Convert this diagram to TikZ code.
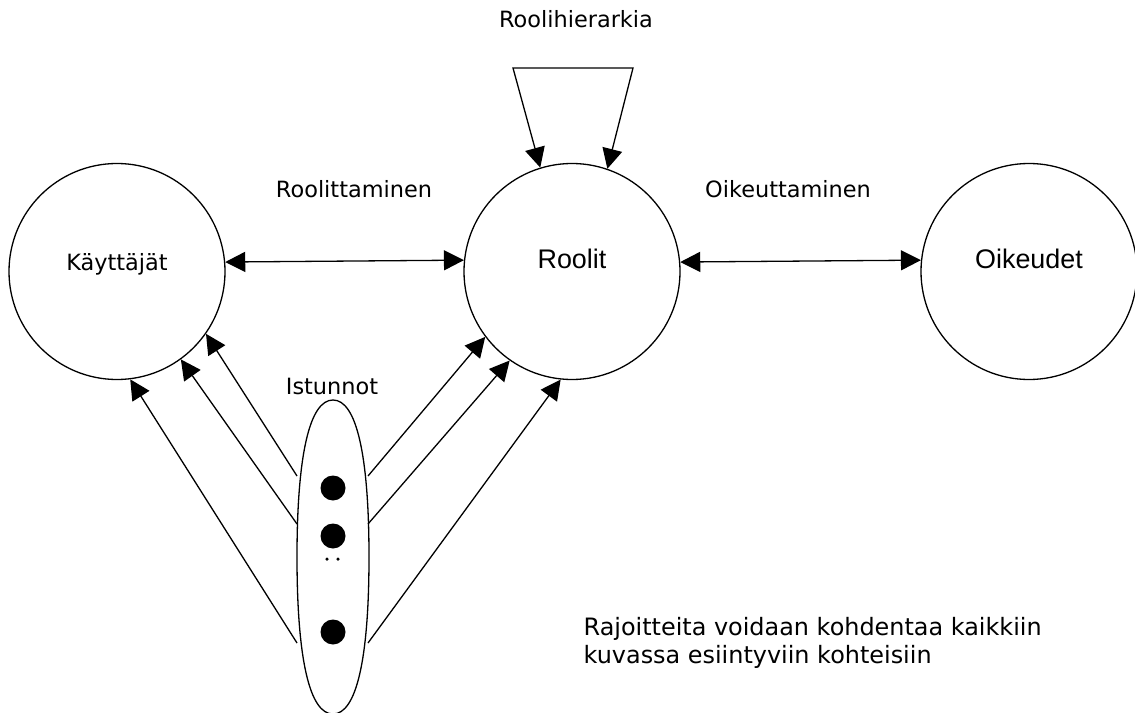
\documentclass[tikz,border=0pt]{standalone}
\usepackage{fontspec}
\setmainfont{DejaVu Sans}
\newfontfamily\arialf{Liberation Sans}
\usetikzlibrary{arrows.meta,shapes.geometric}
\begin{document}
\begin{tikzpicture}[x=1bp,y=-1bp,
  line width=1.3bp,
  tip/.style={-{Triangle[length=20bp,width=20bp]}},
  both/.style={{Triangle[length=20bp,width=20bp]}-{Triangle[length=20bp,width=20bp]}},
  ent/.style={circle,draw,minimum size=216bp,inner sep=0pt},
  lab/.style={font=\fontsize{22.5}{27}\selectfont,anchor=base,inner sep=0pt},
  notelab/.style={font=\fontsize{24}{28}\selectfont,anchor=base west,inner sep=0pt},
  biglab/.style={font=\arialf\fontsize{27}{32}\selectfont,anchor=base,inner sep=0pt},
  dot/.style={circle,fill,inner sep=0pt,minimum size=25bp},
  tinydot/.style={circle,fill,inner sep=0pt,minimum size=3.5bp}
]
\useasboundingbox (0,0) rectangle (1135,713);
% entities
\node[ent] (K) at (117,271.5) {};
\node[ent] (R) at (572,271.5) {};
\node[ent] (O) at (1029,271.5) {};
\node[lab] (Kt) at (117,270) {Käyttäjät};
\node[biglab] (Rt) at (572,268) {Roolit};
\node[biglab] (Ot) at (1029,268) {Oikeudet};
% sessions (oval)
\draw (333,400) .. controls (309.6,400) and (297,455) .. (297,557)
  .. controls (297,659) and (309.6,714) .. (333,714)
  .. controls (356.4,714) and (369,659) .. (369,557)
  .. controls (369,455) and (356.4,400) .. cycle;
\node[dot] (d1) at (333,488) {};
\node[dot] (d2) at (333,536) {};
\node[tinydot] (e1) at (327,559) {};
\node[tinydot] (e2) at (338,559) {};
\node[dot] (d3) at (333,632) {};
% labels
\node[lab] (hier) at (576,28) {Roolihierarkia};
\node[lab] (rl) at (354,198) {Roolittaminen};
\node[lab] (ok) at (788,198) {Oikeuttaminen};
\node[lab] (ist) at (332,394) {Istunnot};
\node[notelab] (n1) at (583,635) {Rajoitteita voidaan kohdentaa kaikkiin};
\node[notelab] (n2) at (583,663) {kuvassa esiintyviin kohteisiin};
% horizontal associations
\draw[both] (K.5.6) -- (R.174.4);
\draw[both] (R.5.6) -- (O.174.4);
% role hierarchy loop
\coordinate (t1) at (513,68);
\coordinate (t2) at (633,68);
\draw[both] (R.107.9) -- (t1) -- (t2) -- (R.71.6);
% session arrows
\coordinate (a1) at (297,476);
\coordinate (a2) at (297,524);
\coordinate (a3) at (297,643);
\coordinate (b1) at (368,476);
\coordinate (b2) at (368,524);
\coordinate (b3) at (368,643);
\draw[tip] (a1) -- (K.-35.6);
\draw[tip] (a2) -- (K.-54.0);
\draw[tip] (a3) -- (K.-83.2);
\draw[tip] (b1) -- (R.-143.8);
\draw[tip] (b2) -- (R.-125.1);
\draw[tip] (b3) -- (R.-96.3);
\end{tikzpicture}
\end{document}
